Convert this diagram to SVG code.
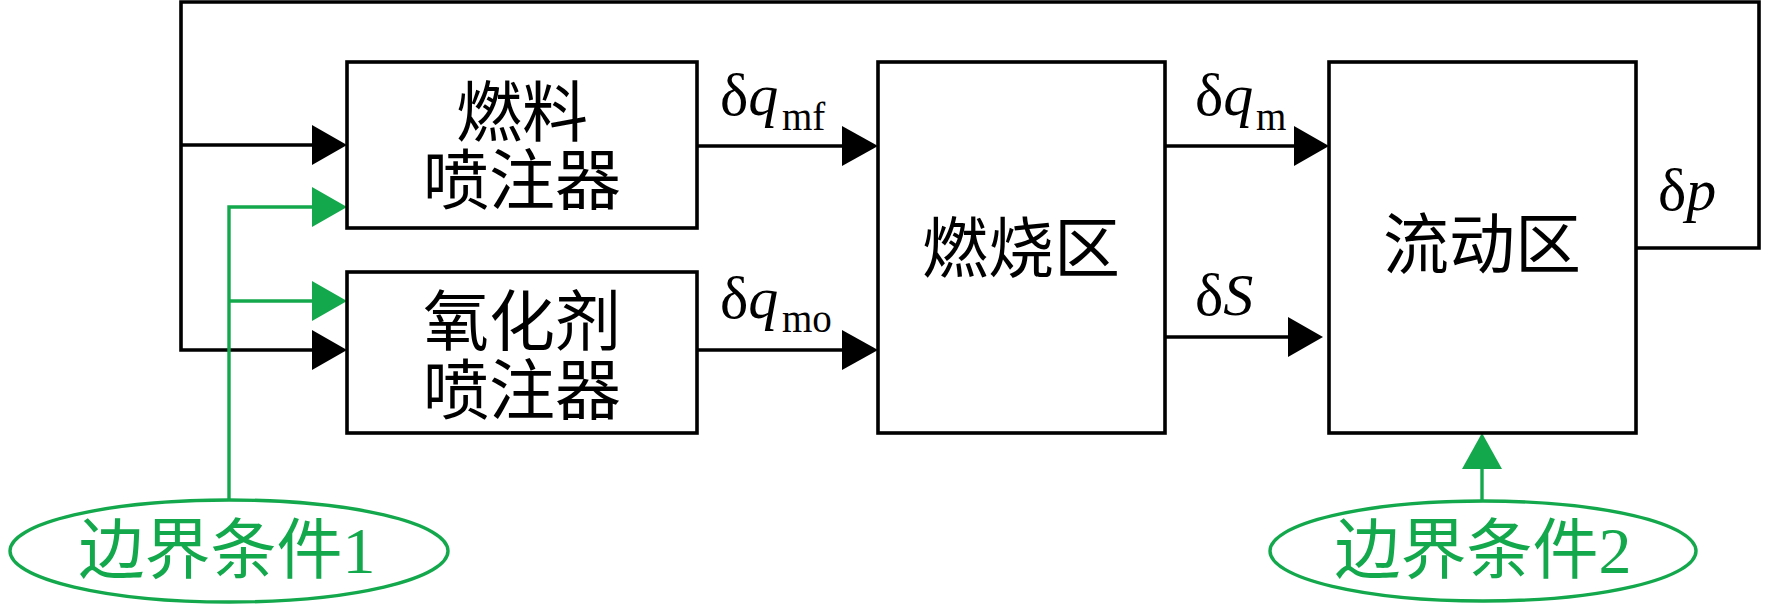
<svg xmlns="http://www.w3.org/2000/svg" width="1772" height="606" viewBox="0 0 1772 606">
<style>
.box{fill:#fff;stroke:#000;stroke-width:3.6}
.ln{fill:none;stroke:#000;stroke-width:3.6}
.gln{fill:none;stroke:#13a84c;stroke-width:3.4}
.ah{fill:#000}
.gah{fill:#13a84c}
.ell{fill:none;stroke:#13a84c;stroke-width:3.4}
.cn{font-family:"Liberation Serif","Noto Sans CJK SC",serif;font-size:66px;fill:#000;text-anchor:middle}
.gt{font-family:"Liberation Serif","Noto Sans CJK SC",serif;font-size:66px;fill:#13a84c;text-anchor:middle}
.lb{font-family:"Liberation Serif",serif;font-size:60px;fill:#000}
.it{font-style:italic}
.sb{font-size:39px}
</style>
<rect width="1772" height="606" fill="#fff"/>
<g id="connectors">
<polyline class="ln" points="1636,248 1759,248 1759,2 181,2 181,350 314,350"/>
<line class="ln" x1="181" y1="145" x2="314" y2="145"/>
<polygon class="ah" points="312,125 347,145 312,165"/>
<polygon class="ah" points="312,330 347,350 312,370"/>
<line class="ln" x1="697" y1="146" x2="844" y2="146"/>
<polygon class="ah" points="842,126 878,146 842,166"/>
<line class="ln" x1="697" y1="350" x2="844" y2="350"/>
<polygon class="ah" points="842,330 878,350 842,370"/>
<line class="ln" x1="1165" y1="146" x2="1296" y2="146"/>
<polygon class="ah" points="1294,126 1329,146 1294,166"/>
<line class="ln" x1="1165" y1="337" x2="1290" y2="337"/>
<polygon class="ah" points="1288,317 1323,337 1288,357"/>
<polyline class="gln" points="229,500 229,207 314,207"/>
<line class="gln" x1="229" y1="301" x2="314" y2="301"/>
<polygon class="gah" points="312,187 347,207 312,227"/>
<polygon class="gah" points="312,281 347,301 312,321"/>
<line class="gln" x1="1482" y1="500" x2="1482" y2="467"/>
<polygon class="gah" points="1462,469 1482,433 1502,469"/>
<text class="lb" x="720" y="115">δ<tspan class="it">q</tspan><tspan class="sb" x="782" y="130">mf</tspan></text>
<text class="lb" x="720" y="318">δ<tspan class="it">q</tspan><tspan class="sb" x="782" y="332">mo</tspan></text>
<text class="lb" x="1195" y="115">δ<tspan class="it">q</tspan><tspan class="sb" x="1256" y="130">m</tspan></text>
<text class="lb" x="1195" y="315">δ<tspan class="it">S</tspan></text>
<text class="lb" x="1658" y="210">δ<tspan class="it">p</tspan></text>
</g>
<g id="fuel-injector">
<rect class="box" x="347" y="62" width="350" height="166"/>
<text class="cn" x="522" y="136">燃料</text>
<text class="cn" x="522" y="204">喷注器</text>
</g>
<g id="oxidizer-injector">
<rect class="box" x="347" y="272" width="350" height="161"/>
<text class="cn" x="522" y="345">氧化剂</text>
<text class="cn" x="522" y="414">喷注器</text>
</g>
<g id="combustion-zone">
<rect class="box" x="878" y="62" width="287" height="371"/>
<text class="cn" x="1021" y="272">燃烧区</text>
</g>
<g id="flow-zone">
<rect class="box" x="1329" y="62" width="307" height="371"/>
<text class="cn" x="1482" y="268">流动区</text>
</g>
<g id="boundary-1">
<ellipse class="ell" cx="229" cy="551" rx="219" ry="51"/>
<text class="gt" x="227" y="573">边界条件1</text>
</g>
<g id="boundary-2">
<ellipse class="ell" cx="1483" cy="551" rx="213" ry="50"/>
<text class="gt" x="1483" y="573">边界条件2</text>
</g>
</svg>
